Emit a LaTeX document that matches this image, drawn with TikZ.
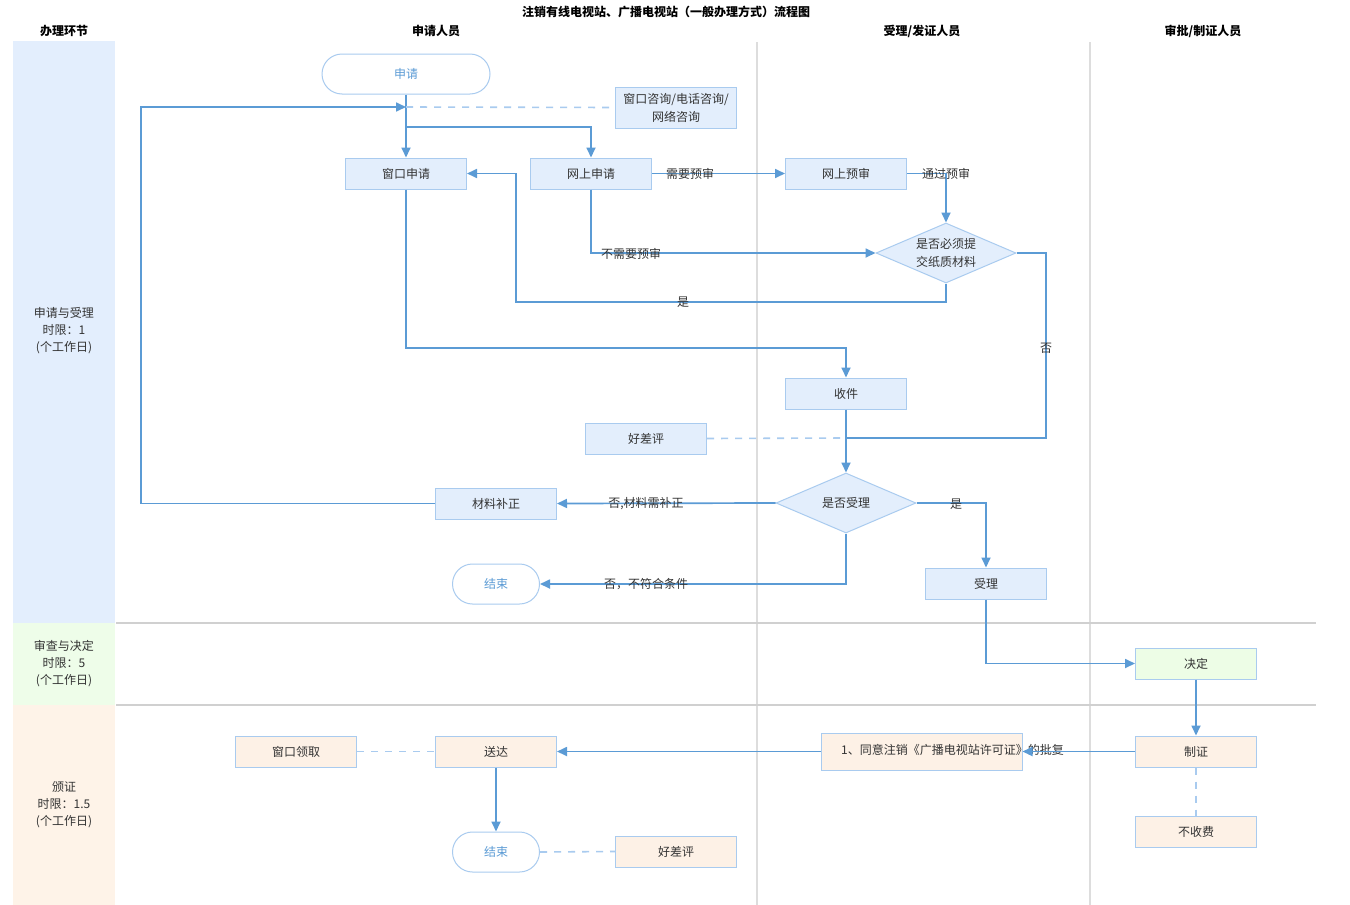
\documentclass[tikz,border=0pt]{standalone}
\usepackage{fontspec}
\setmainfont{Noto Sans CJK SC}
\usetikzlibrary{shapes.geometric,arrows.meta}
\definecolor{ln}{HTML}{5B9BD5}
\definecolor{bd}{HTML}{A9CBEF}
\definecolor{dsh}{HTML}{A9CBEF}
\definecolor{fb}{HTML}{E3EEFC}
\definecolor{fg}{HTML}{EDFDE6}
\definecolor{fo}{HTML}{FDF1E6}
\definecolor{cb}{HTML}{E3EEFD}
\definecolor{cg}{HTML}{EEFDE9}
\definecolor{co}{HTML}{FEF3E8}
\definecolor{sep}{HTML}{D0D0D0}
\definecolor{vsep}{HTML}{DDDDDD}
\definecolor{tx}{HTML}{333333}
\definecolor{tb}{HTML}{5B9BD5}
\begin{document}
\begin{tikzpicture}[x=1pt,y=-1pt,
  font=\fontsize{12}{15}\selectfont,
  every node/.style={text=tx},
  box/.style={draw=bd,line width=1pt,fill=fb,minimum width=121pt,minimum height=31pt,inner sep=0pt},
  gbox/.style={box,fill=fg},
  obox/.style={box,fill=fo},
  term/.style={draw=bd,line width=1pt,fill=white,rounded corners=20pt,minimum height=40pt,inner sep=0pt,text=tb},
  dia/.style={diamond,draw=bd,line width=1pt,fill=fb,aspect=2.33,inner sep=0pt,minimum width=140pt,minimum height=60pt,align=center,font=\fontsize{12}{18}\selectfont},
  arr/.style={draw=ln,line width=1.7pt,-{Triangle[length=10pt,width=9pt]}},
  lnk/.style={draw=ln,line width=1.7pt},
  dsl/.style={draw=dsh,line width=1.6pt,dash pattern=on 7pt off 7pt},
  lbl/.style={inner sep=0pt},
  hdr/.style={font=\fontsize{12}{15}\selectfont\bfseries,text=black},
  lane/.style={align=center,font=\fontsize{12}{17}\selectfont}
]
\useasboundingbox (0,0) rectangle (1350,905);
\fill[white] (0,0) rectangle (1350,905);

% left column
\fill[cb] (13,41) rectangle (115,623);
\fill[cg] (13,623) rectangle (115,705);
\fill[co] (13,705) rectangle (115,905);
\node[lane] (l1) at (64,331) {申请与受理\\时限：1\\(个工作日)};
\node[lane] (l2) at (64,664) {审查与决定\\时限：5\\(个工作日)};
\node[lane] (l3) at (64,805) {颁证\\时限：1.5\\(个工作日)};

% separators
\draw[vsep,line width=2pt] (757,42) -- (757,905);
\draw[vsep,line width=2pt] (1090,42) -- (1090,905);
\draw[sep,line width=2pt] (116,623) -- (1316,623);
\draw[sep,line width=2pt] (116,705) -- (1316,705);

% headers
\node[hdr] (title) at (666,12) {注销有线电视站、广播电视站（一般办理方式）流程图};
\node[hdr] (h0) at (64,31) {办理环节};
\node[hdr] (h1) at (436,31) {申请人员};
\node[hdr] (h2) at (922,31) {受理/发证人员};
\node[hdr] (h3) at (1203,31) {审批/制证人员};

% nodes
\node[term,minimum width=168pt] (start) at (406,74) {申请};
\node[box,minimum height=41pt,align=center,font=\fontsize{12}{18}\selectfont] (consult) at (676,107.5) {窗口咨询/电话咨询/\\网络咨询};
\node[box] (winapp) at (406,173.5) {窗口申请};
\node[box] (onapp) at (591,173.5) {网上申请};
\node[box] (pre) at (846,173.5) {网上预审};
\node[dia] (d1) at (946,253) {是否必须提\\交纸质材料};
\node[box] (recv) at (846,393.5) {收件};
\node[box] (rate1) at (646,438.5) {好差评};
\node[dia] (d2) at (846,503) {是否受理};
\node[box] (fix) at (496,503.5) {材料补正};
\node[term,minimum width=87pt] (end1) at (496,584) {结束};
\node[box] (acc) at (986,583.5) {受理};
\node[gbox] (dec) at (1196,663.5) {决定};
\node[obox] (make) at (1196,751.5) {制证};
\node[obox] (nofee) at (1196,831.5) {不收费};
\node[obox,minimum width=201pt,minimum height=37pt] (reply) at (921.5,751.5) {};
\node[anchor=west,inner sep=0pt] (replyt) at (841,750) {1、同意注销《广播电视站许可证》的批复};
\node[obox] (deliv) at (496,751.5) {送达};
\node[obox] (pick) at (296,751.5) {窗口领取};
\node[term,minimum width=87pt] (end2) at (496,852) {结束};
\node[obox] (rate2) at (676,851.5) {好差评};

% junctions
\coordinate (j0) at (406,107);
\coordinate (j1) at (406,127);
\coordinate (j2) at (846,438);
\coordinate (k1) at (516,302);
\coordinate (k2) at (141,503.5);
\coordinate (k3) at (1046,438);
\coordinate (k4) at (846,348);

% connectors
\draw[arr] (start.south) -- (winapp.north);
\draw[arr] (j1) -| (onapp.north);
\draw[arr] (fix.west) -- (k2) |- (j0);
\draw[dsl] (j0) -- (consult.west);
\draw[arr] (onapp.east) -- (pre.west);
\draw[arr] (pre.east) -| (d1.north);
\draw[arr] (onapp.south) |- (d1.west);
\draw[arr] (d1.south) |- (k1) |- (winapp.east);
\draw[lnk] (d1.east) -| (k3) -- (j2);
\draw[arr] (winapp.south) |- (k4) -- (recv.north);
\draw[arr] (recv.south) -- (d2.north);
\draw[dsl] (rate1.east) -- (j2);
\draw[arr] (d2.west) -- (fix.east);
\draw[arr] (d2.south) |- (end1.east);
\draw[arr] (d2.east) -| (acc.north);
\draw[arr] (acc.south) |- (dec.west);
\draw[arr] (dec.south) -- (make.north);
\draw[arr] (make.west) -- (reply.east);
\draw[dsl] (make.south) -- (nofee.north);
\draw[arr] (reply.west) -- (deliv.east);
\draw[dsl] (pick.east) -- (deliv.west);
\draw[arr] (deliv.south) -- (end2.north);
\draw[dsl] (end2.east) -- (rate2.west);

% labels
\node[lbl] (la) at (690,174) {需要预审};
\node[lbl] (lb) at (946,174) {通过预审};
\node[lbl] (lc) at (631,254) {不需要预审};
\node[lbl] (ld) at (683,302) {是};
\node[lbl] (le) at (1046,348) {否};
\node[lbl] (lf) at (646,504) {否,材料需补正};
\node[lbl] (lg) at (646,584) {否，不符合条件};
\node[lbl] (lh) at (956,504) {是};
\end{tikzpicture}
\end{document}
